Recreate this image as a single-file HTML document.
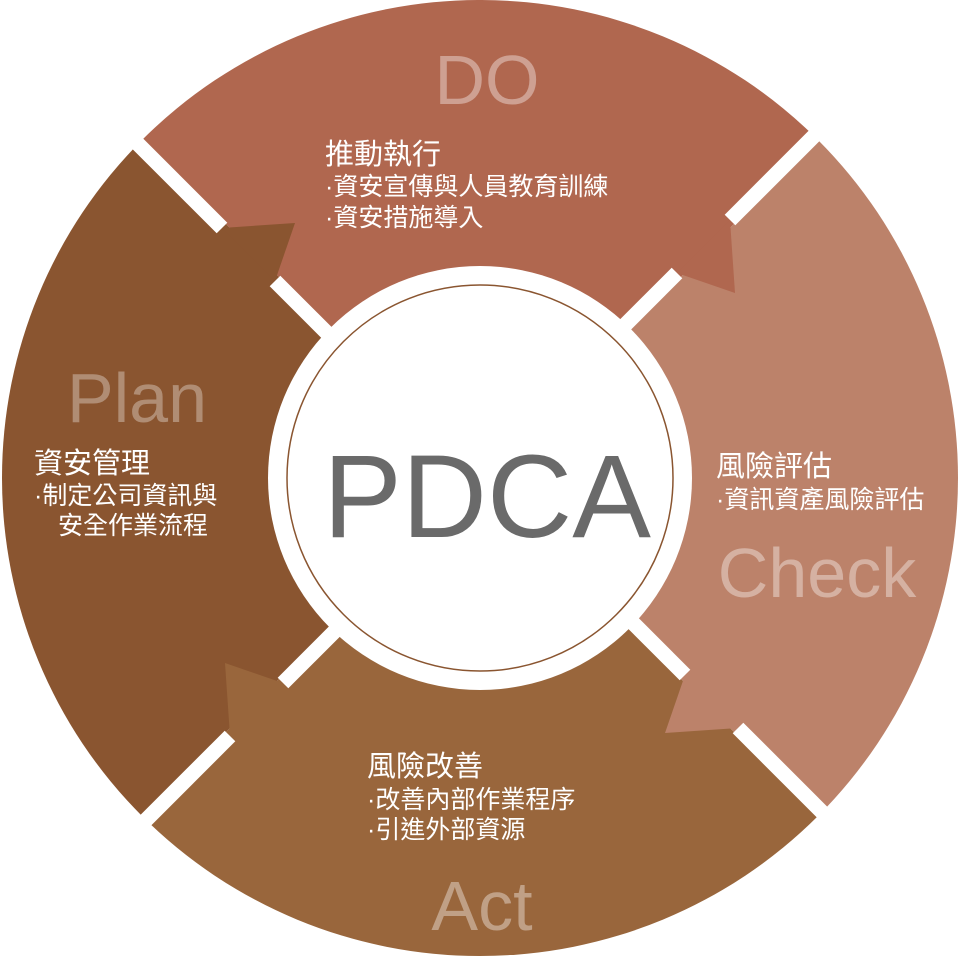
<!DOCTYPE html>
<html><head><meta charset="utf-8"><style>
html,body{margin:0;padding:0;background:#fff;}
svg text{font-family:"Liberation Sans","Noto Sans CJK TC",sans-serif;}
</style></head><body>
<svg width="960" height="957" viewBox="0 0 960 957" xmlns="http://www.w3.org/2000/svg">
<g>
<path d="M480,478 L142,140 A478,478 0 0 1 818,140 Z" fill="#B0674F"/>
<path d="M480,478 L818,140 A478,478 0 0 1 818,816 Z" fill="#BC826A"/>
<path d="M480,478 L818,816 A478,478 0 0 1 142,816 Z" fill="#99663C"/>
<path d="M480,478 L142,816 A478,478 0 0 1 142,140 Z" fill="#8A5530"/>
<polygon points="730,220 735,293 677,273" fill="#B0674F"/>
<polygon points="738,728 665,733 685,675" fill="#BC826A"/>
<polygon points="230,736 225,663 283,683" fill="#99663C"/>
<polygon points="222,228 295,223 275,281" fill="#8A5530"/>
<g stroke="#fff" stroke-width="15">
<line x1="677" y1="273" x2="550" y2="400"/>
<line x1="730" y1="220" x2="840" y2="110"/>
<line x1="685" y1="675" x2="560" y2="550"/>
<line x1="738" y1="728" x2="850" y2="840"/>
<line x1="283" y1="683" x2="400" y2="566"/>
<line x1="230" y1="736" x2="110" y2="856"/>
<line x1="275" y1="281" x2="400" y2="406"/>
<line x1="222" y1="228" x2="110" y2="116"/>
</g>
<circle cx="480" cy="478" r="212" fill="#fff"/>
<circle cx="480" cy="478" r="193" fill="none" stroke="#8A5530" stroke-width="1.5"/>
</g>
<text x="487" y="104" font-size="70" fill="#fff" fill-opacity="0.38" text-anchor="middle">DO</text>
<text x="137" y="422" font-size="70" fill="#fff" fill-opacity="0.33" text-anchor="middle">Plan</text>
<text x="817" y="597" font-size="70" fill="#fff" fill-opacity="0.38" text-anchor="middle">Check</text>
<text x="482" y="930" font-size="70" fill="#fff" fill-opacity="0.38" text-anchor="middle">Act</text>
<text x="487" y="537" font-size="118" fill="#6a6a6a" text-anchor="middle">PDCA</text>
<g fill="#fff">
<text x="325" y="164" font-size="29">推動執行</text>
<text x="325" y="195" font-size="25">·資安宣傳與人員教育訓練</text>
<text x="325" y="226" font-size="25">·資安措施導入</text>
<text x="34" y="473" font-size="29">資安管理</text>
<text x="34" y="504" font-size="25">·制定公司資訊與</text>
<text x="58" y="534" font-size="25">安全作業流程</text>
<text x="716" y="476" font-size="29">風險評估</text>
<text x="716" y="508" font-size="25">·資訊資產風險評估</text>
<text x="367" y="776" font-size="29">風險改善</text>
<text x="367" y="808" font-size="25">·改善內部作業程序</text>
<text x="367" y="838" font-size="25">·引進外部資源</text>
</g>
</svg>
</body></html>
